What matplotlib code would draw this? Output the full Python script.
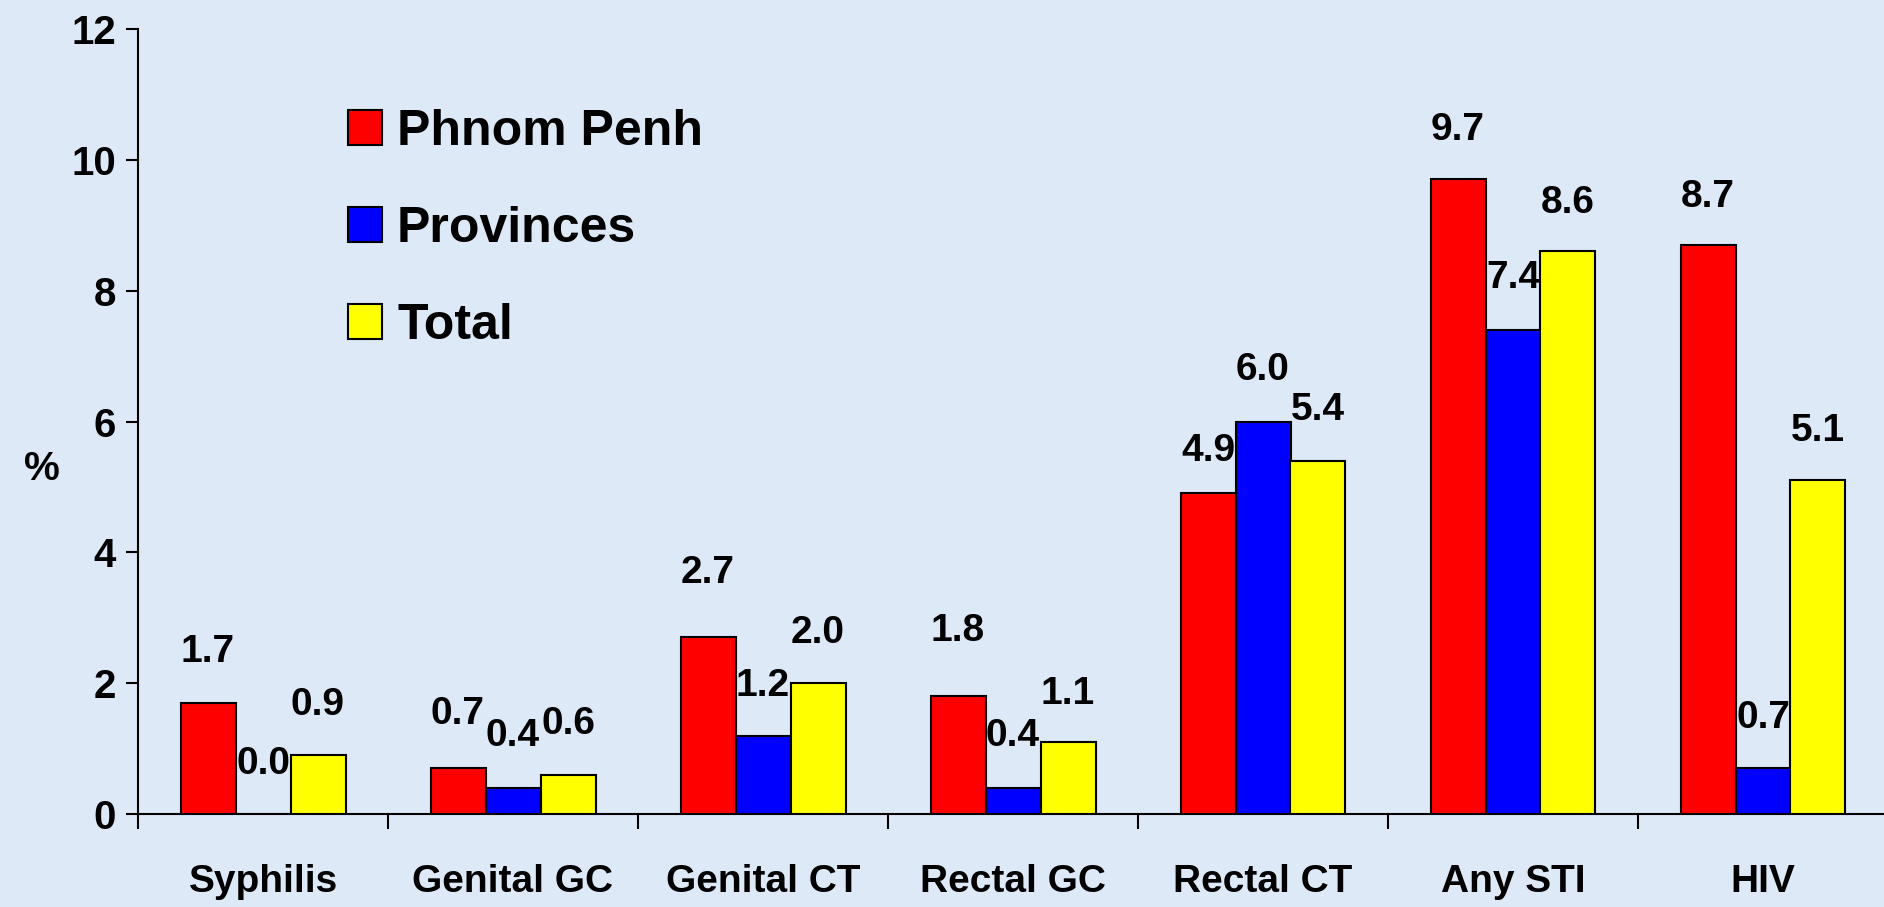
import matplotlib
matplotlib.use("Agg")
import matplotlib.pyplot as plt
import numpy as np

categories = ["Syphilis", "Genital GC", "Genital CT", "Rectal GC", "Rectal CT", "Any STI", "HIV"]
series_names = ["Phnom Penh", "Provinces", "Total"]
phnom_penh = [1.7, 0.7, 2.7, 1.8, 4.9, 9.7, 8.7]
provinces = [0.0, 0.4, 1.2, 0.4, 6.0, 7.4, 0.7]
total = [0.9, 0.6, 2.0, 1.1, 5.4, 8.6, 5.1]
y_ticks = [0, 2, 4, 6, 8, 10, 12]

colors = ["#ff0000", "#0000ff", "#ffff00"]
bg = "#dde9f7"

# label vertical offsets (pixels above bar top, label center)
label_offsets = [
    [51, 54, 64, 65, 42, 49, 48],
    [50, 52, 49, 52, 51, 52, 50],
    [50, 51, 50, 48, 51, 48, 49],
]

plt.rcParams['font.family'] = ['Liberation Sans', 'DejaVu Sans']
plt.rcParams['font.weight'] = 'bold'

FS = 29
W, H = 1884, 907
fig = plt.figure(figsize=(W / 100, H / 100), dpi=100, facecolor=bg)
ax_left, ax_right = 138, 1888
y_bot, y_top = 814, 29
ax = fig.add_axes([ax_left / W, (H - y_bot) / H, (ax_right - ax_left) / W, (y_bot - y_top) / H])
ax.set_facecolor("none")

x = np.arange(len(categories))
bw = 0.22
all_series = [phnom_penh, provinces, total]
bars = []
for i, (vals, c) in enumerate(zip(all_series, colors)):
    b = ax.bar(x + (i - 1) * bw, vals, width=bw, color=c, edgecolor="black", linewidth=1.5,
               label=series_names[i], zorder=3)
    bars.append(b)
    for j, v in enumerate(vals):
        ax.annotate(f"{v:.1f}", (x[j] + (i - 1) * bw, v), xytext=(0, label_offsets[i][j]),
                    textcoords="offset pixels", ha="center", va="center",
                    fontsize=28, fontweight="bold", color="black", zorder=4)

ax.set_xlim(-0.5, 6.5)
ax.set_ylim(0, 12)
ax.set_yticks(y_ticks)
ax.set_yticklabels([str(t) for t in y_ticks])
ax.tick_params(axis="y", direction="out", length=9, width=1.5, pad=7, labelsize=FS, colors="black")
ax.set_xticks(np.arange(-0.5, 7.0, 1.0))
ax.set_xticklabels([])
ax.set_xticks(x, minor=True)
ax.set_xticklabels(categories, minor=True)
ax.tick_params(axis="x", which="major", direction="out", length=11, width=1.5)
ax.tick_params(axis="x", which="minor", length=0, pad=36, labelsize=28)
for lab in ax.get_xticklabels(minor=True) + ax.get_yticklabels():
    lab.set_fontweight("bold")

for s in ["top", "right"]:
    ax.spines[s].set_visible(False)
for s in ["left", "bottom"]:
    ax.spines[s].set_linewidth(1.5)
    ax.spines[s].set_color("black")

fig.text(42 / W, 1 - 469 / H, "%", ha="center", va="center", fontsize=FS, fontweight="bold")

leg = ax.legend(handles=bars, labels=series_names, loc="upper left",
                bbox_to_anchor=(348 / W, 1 - 109 / H), bbox_transform=fig.transFigure,
                frameon=False, fontsize=36, handlelength=0.68, handleheight=0.68,
                handletextpad=0.3, labelspacing=1.02, borderpad=0, borderaxespad=0)
for t in leg.get_texts():
    t.set_fontweight("bold")

fig.savefig("out.png", dpi=100, facecolor=bg)
